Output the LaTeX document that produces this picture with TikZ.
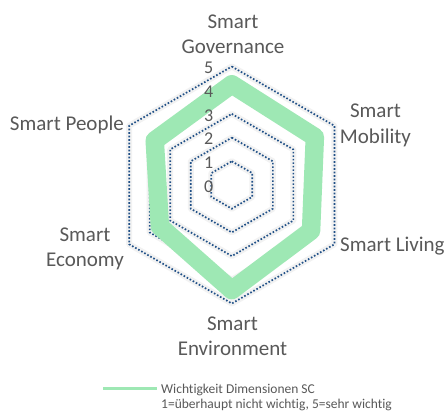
\documentclass[tikz,border=0pt]{standalone}
\usepackage{fontspec}
\setmainfont{Carlito}[Ligatures=NoCommon]
\definecolor{seriesgreen}{RGB}{158,232,180}
\definecolor{griddark}{RGB}{32,80,135}
\definecolor{labelgray}{RGB}{89,89,89}
\tikzset{
  gridhex/.style={draw=griddark, line width=1.7pt, dash pattern=on 1.6pt off 1.9pt},
  gridglow/.style={draw=black!5, line width=6pt, line join=round},
  seriesline/.style={draw=seriesgreen, line width=18.5pt, line join=round},
  catlabel/.style={inner sep=0pt, text=labelgray, font=\fontsize{21}{25}\selectfont, align=center},
  ticklabel/.style={inner sep=0pt, text=labelgray, font=\fontsize{18}{20}\selectfont, anchor=base east},
  legendtext/.style={inner sep=0pt, text=labelgray, font=\fontsize{13.5}{15}\selectfont, align=left, anchor=base west},
  legendline/.style={draw=seriesgreen, line width=3.5pt}
}
\begin{document}
\begin{tikzpicture}[x=1pt,y=-1pt]
\useasboundingbox (0,0) rectangle (448,412);
\fill[white] (0,0) rectangle (448,412);
\begin{scope}[shift={(231.8,185)}]
  % glow under gridlines
  \foreach \r in {23.7,47.4,71.1,94.8,118.5}{
    \draw[gridglow] (-90:\r) -- (-30:\r) -- (30:\r) -- (90:\r) -- (150:\r) -- (210:\r) -- cycle;
  }
  \foreach \r in {23.7,47.4,71.1,94.8,118.5}{
    \draw[gridhex] (-90:\r) -- (-30:\r) -- (30:\r) -- (90:\r) -- (150:\r) -- (210:\r) -- cycle;
  }
  % series
  \coordinate (gov) at (-90:100.7);
  \coordinate (mob) at (-30:95.9);
  \coordinate (liv) at (30:91.5);
  \coordinate (env) at (90:105.1);
  \coordinate (eco) at (150:83.0);
  \coordinate (peo) at (210:89.0);
  \draw[seriesline] (gov) -- (mob) -- (liv) -- (env) -- (eco) -- (peo) -- cycle;
\end{scope}
% tick labels
\node[ticklabel] (t5) at (213.5,73.7) {5};
\node[ticklabel] (t4) at (213.5,97.4) {4};
\node[ticklabel] (t3) at (213.5,121.1) {3};
\node[ticklabel] (t2) at (213.5,144.8) {2};
\node[ticklabel] (t1) at (213.5,168.5) {1};
\node[ticklabel] (t0) at (213.5,192.2) {0};
% category labels (base = baseline of last line)
\node[catlabel, anchor=base] (lgov) at (233,53.3) {Smart\\Governance};
\node[catlabel, anchor=base] (lmob) at (375.5,143) {Smart\\Mobility};
\node[catlabel, anchor=base west] (lliv) at (340,251.7) {Smart Living};
\node[catlabel, anchor=base] (lenv) at (232.5,355) {Smart\\Environment};
\node[catlabel, anchor=base] (leco) at (85,266.7) {Smart\\Economy};
\node[catlabel, anchor=base east] (lpeo) at (124,131) {Smart People};
% legend
\coordinate (lga) at (103.3,388.3);
\coordinate (lgb) at (157.3,388.3);
\draw[legendline] (lga) -- (lgb);
\node[legendtext] (lgt) at (161,408.3) {Wichtigkeit Dimensionen SC\\1=überhaupt nicht wichtig, 5=sehr wichtig};
\end{tikzpicture}
\end{document}
